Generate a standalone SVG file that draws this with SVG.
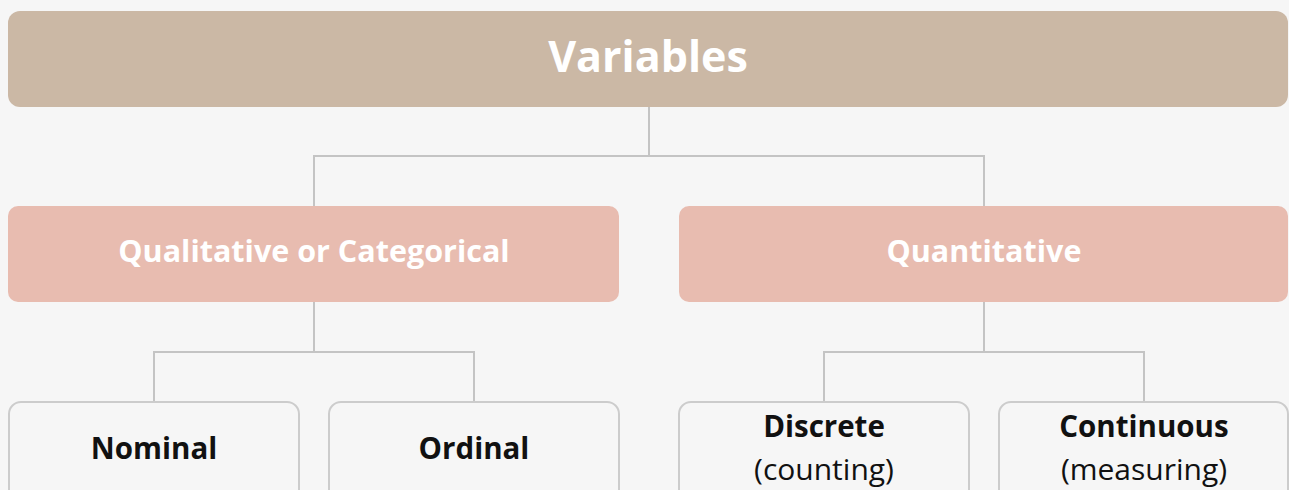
<svg xmlns="http://www.w3.org/2000/svg" width="1289" height="490" viewBox="0 0 1289 490">
<style>
.bg{fill:#f6f6f6}
.top{fill:#cbb8a5}
.mid{fill:#e8bcb0}
.leaf{fill:#f6f6f6;stroke:#cccccc;stroke-width:2}
.conn{fill:none;stroke:#c4c4c4;stroke-width:2}
.t{font-family:"Open Sans","Noto Sans","Liberation Sans",sans-serif;text-anchor:middle}
.w{fill:#ffffff;font-weight:bold}
.b{fill:#111111;font-weight:bold;font-size:29.5px}
.n{fill:#111111;font-size:30px}
</style>
<rect class="bg" x="0" y="0" width="1289" height="490"/>
<g id="connectors">
<path class="conn" d="M649 107V156M314 206V156H984V206"/>
<path class="conn" d="M314 302V352M154 402V352H474V402"/>
<path class="conn" d="M984 302V352M824 402V352H1144V402"/>
</g>
<g id="variables">
<rect class="top" x="8" y="11" width="1280" height="96" rx="12"/>
<text class="t w" x="648" y="72" font-size="43">Variables</text>
</g>
<g id="qualitative">
<rect class="mid" x="8" y="206" width="611" height="96" rx="10"/>
<text class="t w" x="314" y="262" font-size="30.5">Qualitative or Categorical</text>
</g>
<g id="quantitative">
<rect class="mid" x="679" y="206" width="609" height="96" rx="10"/>
<text class="t w" x="984" y="262" font-size="30.5">Quantitative</text>
</g>
<g id="nominal">
<rect class="leaf" x="9" y="402" width="290" height="110" rx="12"/>
<text class="t b" x="154" y="459">Nominal</text>
</g>
<g id="ordinal">
<rect class="leaf" x="329" y="402" width="290" height="110" rx="12"/>
<text class="t b" x="474" y="459">Ordinal</text>
</g>
<g id="discrete">
<rect class="leaf" x="679" y="402" width="290" height="110" rx="12"/>
<text class="t b" x="824" y="437">Discrete</text>
<text class="t n" x="824" y="480">(counting)</text>
</g>
<g id="continuous">
<rect class="leaf" x="999" y="402" width="289" height="110" rx="12"/>
<text class="t b" x="1144" y="437">Continuous</text>
<text class="t n" x="1144" y="480">(measuring)</text>
</g>
</svg>
